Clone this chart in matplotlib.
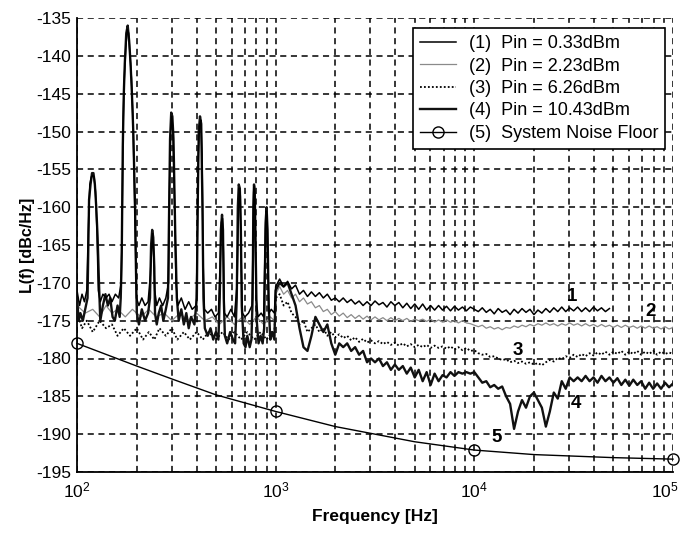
import numpy as np
import matplotlib
matplotlib.use("Agg")
import matplotlib.pyplot as plt
import matplotlib.transforms as mtransforms
from matplotlib.ticker import FixedLocator, LogLocator, NullFormatter

plt.rcParams['font.family'] = ['Liberation Sans', 'DejaVu Sans']
plt.rcParams['mathtext.fontset'] = 'custom'
plt.rcParams['mathtext.rm'] = 'Liberation Sans'
plt.rcParams['mathtext.it'] = 'Liberation Sans:italic'
plt.rcParams['mathtext.bf'] = 'Liberation Sans:bold'
plt.rcParams['axes.unicode_minus'] = False

# ---------------- data ----------------
legend_labels = ["(1)  Pin = 0.33dBm", "(2)  Pin = 2.23dBm", "(3)  Pin = 6.26dBm",
                 "(4)  Pin = 10.43dBm", "(5)  System Noise Floor"]

# high band frequency grid (1 kHz .. 100 kHz, 0.02 decade steps)
f_high = np.geomspace(1e3, 1e5, 101)

# ---- series 1 ----
s1_f_low = [100, 103, 106, 109, 112, 114, 116, 118, 120, 122, 124, 126, 128, 131, 135, 140, 145, 150,
            156, 162, 167, 169, 171, 173, 176, 179, 182, 185, 188, 191, 194, 197, 199, 205, 212, 220,
            228, 234, 237, 240, 243, 246, 252, 260, 270, 280, 289, 292, 296, 300, 304, 309, 315, 322,
            335, 350, 365, 380, 398, 403, 408, 414, 420, 426, 432, 438, 455, 475, 495, 515, 525, 533,
            540, 546, 552, 570, 595, 620, 640, 648, 656, 664, 672, 680, 700, 730, 760, 768, 775, 781,
            788, 797, 815, 845, 870, 880, 888, 897, 905, 915, 925, 950, 985]
s1_L_low = [-171, -173, -171.5, -172.5, -171, -163, -157, -156, -155.8, -156, -158, -163, -171, -172.5,
            -171.5, -172, -171.5, -172.5, -171.5, -172, -170, -160, -148, -143, -139, -136.5, -137,
            -140, -143, -148, -156, -165, -172, -173, -172, -173, -172.5, -169, -166, -163.5, -166,
            -171, -173, -172, -173, -172, -170, -158, -150, -148, -150, -158, -170, -173, -172, -173.5,
            -172.5, -173.5, -173, -165, -153, -149, -148.5, -153, -168, -173.5, -174, -173.5, -174.5,
            -174, -168, -162, -161.5, -166, -174, -174.5, -173.5, -174.5, -170, -162, -157.5, -158.5,
            -168, -174, -174.5, -174, -173, -166, -158, -157.2, -160, -172, -174.5, -174, -174.5,
            -168, -163, -160.5, -161, -168, -174, -173.5, -174]
s1_L_high = [-170.5, -169.5, -170.5, -169.8, -170.8, -170.3, -171.5, -171, -171.8, -171.2, -171.8,
             -171.3, -172, -171.5, -172.3, -172, -172.5, -172, -172.6, -172.2, -172.8, -172.4, -173,
             -172.5, -173, -172.4, -172.9, -172.6, -173.2, -172.5, -173, -172.6, -173.3, -172.7,
             -173.4, -172.8, -173.5, -172.8, -173.6, -173, -173.6, -173, -173.6, -173.1, -173.7,
             -173.1, -173.6, -173.2, -173.7, -173.2, -173.5, -173.8, -173.3, -173.9, -173.5, -174.1,
             -173.4, -173.9, -173.6, -174.2, -173.5, -174, -173.4, -173.9, -173.5, -174.2, -173.6,
             -174, -173.4, -173.9, -173.3, -173.8, -173.2, -173.8, -173.3, -173.7, -173.2, -173.8,
             -173.3, -173.8, -173.2, -173.7, -173.3, -173.8, -173.4]

# ---- series 2 ----
s2_f_low = [100, 110, 120, 130, 140, 150, 160, 175, 190, 210, 230, 250, 275, 300, 330, 360, 400, 440,
            480, 520, 570, 620, 680, 740, 800, 870, 940, 985]
s2_L_low = [-173, -174, -173.5, -174.5, -173, -174, -173.5, -174.5, -173.5, -174.5, -173.5, -174.5,
            -174, -175, -174, -175, -174, -175, -174.5, -175.5, -174.5, -175.5, -174.5, -175.5,
            -174.5, -175.5, -174.5, -175]
s2_L_high = [-171.5, -170.5, -171.5, -171, -172, -171.5, -172.5, -172, -172.8, -172.5, -173.3, -173,
             -173.8, -173.5, -174.2, -173.8, -174.4, -174, -174.6, -174.2, -174.7, -174.3, -174.8,
             -174.4, -174.9, -174.5, -174.9, -174.6, -175, -174.6, -175, -174.7, -175, -174.7, -175.1,
             -174.8, -175, -174.8, -175.1, -174.8, -175.2, -174.9, -175.2, -174.9, -175.2, -175,
             -175.3, -175, -175.3, -175.4, -175.6, -175.8, -175.6, -176, -175.8, -176.1, -175.9,
             -176.2, -175.9, -176, -175.7, -175.9, -175.6, -175.8, -175.5, -175.7, -175.4, -175.6,
             -175.3, -175.6, -175.4, -175.7, -175.4, -175.6, -175.3, -175.6, -175.4, -175.7, -175.4,
             -175.7, -175.5, -175.8, -175.5, -175.8, -175.6, -175.9, -175.6, -175.9, -175.6, -175.9,
             -175.7, -176, -175.7, -176, -175.7, -176, -175.8, -176.1, -175.8, -176.1, -175.9]

# ---- series 3 ----
s3_f_low = [100, 106, 112, 120, 130, 140, 150, 160, 172, 185, 200, 215, 230, 245, 260, 280, 300, 320,
            345, 370, 400, 430, 460, 500, 540, 580, 620, 670, 720, 780, 840, 900, 960, 985]
s3_L_low = [-174, -176, -175, -176.5, -175, -176, -175.5, -177, -176, -177, -176, -177.5, -176.5,
            -177.5, -176, -177, -176, -177.5, -176.5, -177.5, -176.5, -177.5, -176.5, -177.5, -176.5,
            -177.5, -176.5, -177.5, -176.5, -177.5, -176.5, -177.5, -176.5, -177]
s3_L_high = [-172, -171.5, -173, -172.5, -174, -174.5, -175.5, -175, -176.5, -176, -175.5, -176.5,
             -176, -177, -176.5, -177.2, -176.8, -177.3, -177, -177.6, -177.2, -177.8, -177.4, -177.9,
             -177.6, -178, -177.7, -178.1, -177.8, -178.2, -177.9, -178.3, -178, -178.4, -178.1,
             -178.5, -178.2, -178.5, -178.2, -178.6, -178.3, -178.6, -178.4, -178.7, -178.4, -178.8,
             -178.5, -178.9, -178.6, -179, -178.9, -179.3, -179.5, -179.4, -179.8, -179.7, -180,
             -180.2, -180.1, -180.5, -180.3, -180.6, -180.4, -180.7, -180.5, -180.8, -180.6, -180.9,
             -180.5, -180.2, -180.4, -179.9, -180.1, -179.7, -179.9, -179.5, -179.8, -179.4, -179.7,
             -179.3, -179.6, -179.2, -179.5, -179.1, -179.5, -179.1, -179.4, -179, -179.5, -179.1,
             -179.4, -179, -179.5, -179.1, -179.4, -179, -179.5, -179.1, -179.4, -179.2, -179.4]

# ---- series 4 ----
s4_f_low = [100, 102, 104, 107, 110, 113, 114, 115, 117, 119, 121, 123, 125, 127, 129, 131, 135, 139,
            143, 147, 151, 155, 160, 164, 166, 168, 170, 172, 174, 177, 180, 183, 186, 189, 192, 196,
            198, 200, 205, 212, 220, 228, 233, 236, 239, 242, 245, 247, 252, 258, 265, 272, 280, 287,
            290, 294, 298, 302, 306, 312, 318, 325, 335, 345, 355, 365, 375, 390, 401, 405, 410, 416,
            422, 428, 433, 440, 455, 470, 485, 500, 515, 523, 530, 537, 543, 548, 555, 570, 590, 610,
            625, 637, 645, 652, 660, 668, 675, 690, 705, 720, 740, 755, 766, 772, 778, 785, 795, 803,
            820, 840, 860, 875, 881, 890, 900, 910, 922, 940, 960, 985]
s4_L_low = [-172, -175, -174, -175, -173.5, -172, -165, -159, -157, -155.5, -155.5, -157, -160, -164,
            -170, -175, -173, -171.5, -173, -172, -174.5, -175, -173, -174.5, -172, -166, -152, -145,
            -141, -137, -136, -138, -141, -145, -150, -160, -168, -174, -175.5, -173.5, -175, -174,
            -172, -165, -163, -164, -168, -174, -175.5, -174, -173, -175, -173.5, -172, -163, -151,
            -147.5, -148, -151, -163, -172, -175, -173.5, -175.5, -174, -176, -174.5, -175.5, -172,
            -160, -150, -148, -149, -160, -172, -176, -177, -176, -177.5, -176.5, -177.5, -172, -163,
            -161, -163, -172, -177, -178, -176.5, -177.5, -178, -172, -160, -157, -157.5, -163, -173,
            -178, -178.5, -177, -178.5, -177.5, -172, -160, -157, -158, -167, -175, -178, -177, -178,
            -176, -170, -162, -160, -163, -173, -177.5, -176.5, -177.5]
s4_L_high = [-171, -170, -170.5, -170, -171.5, -173, -176, -178.5, -179, -177, -174.5, -175.5,
             -176.5, -175.5, -178, -179.5, -178, -178.5, -178, -179, -178.5, -179.5, -179, -180.5,
             -180, -180.5, -180, -181, -180.5, -181.5, -180.8, -181.5, -181, -182, -181.2, -182.5,
             -181.5, -183, -181.8, -183.5, -182, -183, -182.2, -182.5, -181.8, -182.3, -181.8, -182,
             -181.8, -182, -181.8, -182.5, -183.2, -183, -183.8, -183.5, -184, -183.7, -185, -186,
             -189.3, -187, -185.5, -186.5, -185, -184.5, -185.5, -186.5, -189, -187, -184.5, -185.3,
             -183, -184, -182.5, -183, -182.5, -183, -182.3, -183, -182.5, -183.2, -182.3, -183,
             -182.5, -183.2, -182.6, -183.5, -182.8, -183.6, -182.8, -183.5, -183, -184, -183.2,
             -184, -183.3, -184, -183.2, -183.8, -183.3]

# ---- series 5: system noise floor ----
s5_f = [100, 200, 300, 500, 1000, 2000, 5000, 10000, 20000, 50000, 100000]
s5_L = [-178, -181, -182.7, -184.8, -187, -189, -191, -192.1, -192.7, -193.1, -193.3]
s5_marker_idx = [0, 4, 7, 10]

# curve annotation labels
ann_text = ["1", "2", "3", "4", "5"]
ann_f = [31200, 77300, 16500, 32400, 12900]
ann_L = [-171.8, -173.8, -178.9, -185.9, -190.4]

y_ticks = [-195, -190, -185, -180, -175, -170, -165, -160, -155, -150, -145, -140, -135]
x_ticks = [1e2, 1e3, 1e4, 1e5]

# ---------------- plot ----------------
fig = plt.figure(figsize=(6.84, 5.33), dpi=100)
ax = fig.add_axes([77 / 684, 1 - 472 / 533, 596 / 684, 454 / 533])

f1 = np.concatenate([s1_f_low, f_high[:len(s1_L_high)]])
L1 = np.concatenate([s1_L_low, s1_L_high])
f2 = np.concatenate([s2_f_low, f_high[:len(s2_L_high)]])
L2 = np.concatenate([s2_L_low, s2_L_high])
f3 = np.concatenate([s3_f_low, f_high[:len(s3_L_high)]])
L3 = np.concatenate([s3_L_low, s3_L_high])
f4 = np.concatenate([s4_f_low, f_high[:len(s4_L_high)]])
L4 = np.concatenate([s4_L_low, s4_L_high])

l2, = ax.plot(f2, L2, color='#8a8a8a', lw=0.9, zorder=3)
l3, = ax.plot(f3, L3, color='black', lw=1.3, linestyle=(0, (1, 1.2)), zorder=3)
l4, = ax.plot(f4, L4, color='#111111', lw=1.7, zorder=4)
l1, = ax.plot(f1, L1, color='black', lw=1.1, zorder=5)
l5, = ax.plot(s5_f, s5_L, color='black', lw=1.0, marker='o', markersize=8,
              markerfacecolor='none', markeredgewidth=1.0, markevery=s5_marker_idx,
              clip_on=False, zorder=6)

for t, fx, ly in zip(ann_text, ann_f, ann_L):
    ax.text(fx, ly, t, fontsize=13.5, fontweight='bold', ha='center', va='center', zorder=7)

ax.set_xscale('log')
ax.set_xlim(1e2, 1e5)
ax.set_ylim(-195, -135)
ax.yaxis.set_major_locator(FixedLocator(y_ticks))
ax.xaxis.set_major_locator(FixedLocator(x_ticks))
ax.xaxis.set_minor_locator(LogLocator(base=10, subs=np.arange(2, 10), numticks=20))
ax.xaxis.set_minor_formatter(NullFormatter())

grid_kw = dict(color='black', linestyle=(0, (4, 3)), linewidth=1.1)
ax.grid(True, which='major', axis='both', **grid_kw)
ax.grid(True, which='minor', axis='x', **grid_kw)
ax.set_axisbelow(True)

for s in ['top', 'right']:
    ax.spines[s].set_visible(False)
for s in ['left', 'bottom']:
    ax.spines[s].set_linewidth(1.3)

ax.tick_params(which='both', direction='in', length=0, labelsize=12.5)
ax.tick_params(axis='y', pad=4)
ax.tick_params(axis='x', pad=6)

ax.set_xlabel('Frequency [Hz]', fontsize=12.5, fontweight='bold', labelpad=6)
ax.set_ylabel('L(f) [dBc/Hz]', fontsize=11.5, fontweight='bold', labelpad=1)

# keep the last x tick label inside the figure
fig.canvas.draw()
last_lbl = ax.get_xticklabels()[-1]
last_lbl.set_transform(last_lbl.get_transform() +
                       mtransforms.ScaledTranslation(-8 / 100, 0, fig.dpi_scale_trans))

leg = ax.legend([l1, l2, l3, l4, l5], legend_labels, loc='upper right',
                bbox_to_anchor=(0.987, 0.978), borderaxespad=0, fontsize=13,
                handlelength=2.0, handletextpad=0.7, labelspacing=0.3,
                borderpad=0.4, fancybox=False, framealpha=1, edgecolor='black')
leg.get_frame().set_linewidth(1.2)
leg.set_zorder(10)

fig.savefig('out.png', dpi=100)
